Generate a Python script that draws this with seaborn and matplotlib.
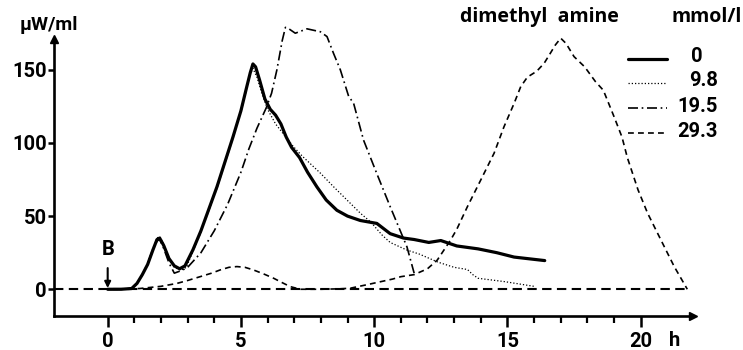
import matplotlib
matplotlib.use("Agg")
import matplotlib.pyplot as plt
import seaborn as sns
import pandas as pd
from matplotlib.lines import Line2D

# ---------------- data ----------------
concentrations = ["0", "9.8", "19.5", "29.3"]

t_0 = [0, 0.5, 0.9, 1.1, 1.3, 1.5, 1.7, 1.85, 1.95, 2.1, 2.3, 2.5, 2.7, 2.9, 3.2, 3.5,
       3.8, 4.1, 4.4, 4.7, 5.0, 5.2, 5.35, 5.45, 5.55, 5.7, 5.9, 6.1, 6.3, 6.5, 6.7, 6.9,
       7.2, 7.5, 7.85, 8.2, 8.6, 9.0, 9.48, 10.1, 10.6, 11.1, 11.5, 12.05, 12.5, 13.1,
       13.9, 14.6, 15.25, 16.4]
v_0 = [0, 0, 0.5, 4, 10, 17, 27, 34, 35, 30, 21, 16, 14, 16, 27, 40,
       55, 70, 87, 104, 122, 137, 148, 154, 152, 143, 130, 123, 119, 113, 104, 97,
       90, 80, 70, 61, 54, 50, 47, 45, 38, 35, 34, 32, 33.3, 29.6,
       27.6, 25, 22, 19.6]

t_98 = [0, 0.5, 0.9, 1.1, 1.3, 1.5, 1.7, 1.85, 1.95, 2.1, 2.3, 2.5, 2.75, 2.95, 3.2, 3.5,
        3.8, 4.1, 4.4, 4.7, 5.0, 5.2, 5.35, 5.45, 5.6, 5.8, 6.0, 6.3, 6.6, 6.97, 7.3,
        7.98, 8.48, 8.98, 9.48, 9.87, 10.3, 10.6, 11.2, 11.7, 12.4, 13.0, 13.5, 13.7,
        13.9, 14.9, 16.0]
v_98 = [0, 0, 0.5, 4, 10, 18, 28, 35, 36, 31, 21, 15, 13, 15, 26, 39,
        54, 69, 86, 103, 121, 136, 147, 151, 145, 133, 123, 113, 106, 97.5, 91,
        79.4, 70, 61, 52, 46, 37, 32, 27, 24, 18.5, 15, 13.5, 10,
        7.5, 5.2, 2]

t_195 = [0, 0.5, 0.9, 1.1, 1.3, 1.5, 1.7, 1.85, 1.95, 2.1, 2.3, 2.5, 2.8, 3.0, 3.5, 4.0,
         4.5, 5.0, 5.3, 5.6, 5.95, 6.15, 6.35, 6.55, 6.67, 6.8, 7.04, 7.48, 7.98, 8.23,
         8.48, 8.73, 9.04, 9.23, 9.6, 10.1, 10.6, 11.23, 11.5]
v_195 = [0, 0, 0.5, 4, 10, 17, 27, 33, 34, 28, 18, 11, 13, 15, 25, 40,
         58, 80, 96, 110, 124, 134, 150, 170, 179, 178, 175, 178, 176, 172.7,
         161, 150, 132, 127, 102, 79, 56.5, 29, 11]

t_293 = [0, 1.2, 2.0, 2.6, 3.0, 3.47, 3.9, 4.22, 4.55, 4.85, 5.15, 5.47, 5.85, 6.23, 6.55,
         6.85, 7.23, 8.0, 8.7, 9.1, 9.7, 10.2, 10.7, 11.0, 11.5, 12.0, 12.37, 12.87, 13.1,
         13.5, 14.0, 14.5, 14.87, 15.25, 15.5, 15.75, 16.1, 16.38, 16.6, 16.8, 17.0, 17.2,
         17.5, 17.9, 18.3, 18.6, 19.0, 19.3, 19.5, 19.9, 20.26, 20.76, 21.26, 21.75]
v_293 = [0, 0.5, 2, 4, 6, 8.6, 11, 13.2, 15, 15.5, 15, 13.2, 10.5, 7.5, 4.5,
         1.8, 0, 0, 0.3, 0.7, 3, 5, 7, 8.6, 10, 14, 20, 33.7, 41,
         56.5, 74.7, 93, 111, 127, 138.5, 145, 149, 154.5, 161, 167, 171.6, 168,
         159, 152, 142, 136, 118, 104, 90, 68, 52, 33.7, 15.5, 0]

x_major_ticks = [0, 5, 10, 15, 20]
x_minor_ticks = [1, 2, 3, 4, 6, 7, 8, 9, 11, 12, 13, 14, 16, 17, 18, 19]
y_ticks = [0, 50, 100, 150]

# ---------------- styling ----------------
sns.set_theme(style="ticks")
plt.rcParams["font.family"] = ["Roboto", "DejaVu Sans"]
plt.rcParams.update({
    "text.color": "black", "axes.labelcolor": "black",
    "xtick.color": "black", "ytick.color": "black", "axes.edgecolor": "black",
    "font.weight": "bold",
})
WIDE = ["Open Sans", "DejaVu Sans"]

frames = []
for lab, t, v in zip(concentrations, [t_0, t_98, t_195, t_293], [v_0, v_98, v_195, v_293]):
    frames.append(pd.DataFrame({"t": t, "v": v, "c": lab}))
df = pd.concat(frames, ignore_index=True)

line_styles = {
    "0": dict(lw=2.3, ls="-"),
    "9.8": dict(lw=0.9, ls=(0, (1, 1.6))),
    "19.5": dict(lw=1.2, ls=(0, (6, 2.2, 1, 2.2))),
    "29.3": dict(lw=1.2, ls=(0, (3.5, 2.5))),
}

fig = plt.figure(figsize=(7.43, 3.5), dpi=100)
ax = fig.add_axes([0.0732, 0.0983, 0.859, 0.8486])

for lab in concentrations:
    sub = df[df["c"] == lab]
    st = line_styles[lab]
    n_before = len(ax.lines)
    sns.lineplot(data=sub, x="t", y="v", ax=ax, color="black", sort=False,
                 estimator=None, linewidth=st["lw"], legend=False)
    for ln in ax.lines[n_before:]:
        ln.set_linestyle(st["ls"])
        ln.set_solid_capstyle("round")

xmin, xmax = -2.0, 21.95
ymin, ymax = -18, 185
ax.set_xlim(xmin, xmax)
ax.set_ylim(ymin, ymax)

# zero baseline (long dashes)
ax.axhline(0, xmin=0, xmax=(21.8 - xmin) / (xmax - xmin), color="black",
           lw=1.5, ls=(0, (4.5, 2.6)))

# spines and arrows
ax.spines[["top", "right"]].set_visible(False)
for s in ["left", "bottom"]:
    ax.spines[s].set_linewidth(1.9)
ax.spines["left"].set_bounds(ymin, 171)
ax.plot(1, 0, marker=">", ms=6, color="black", transform=ax.transAxes, clip_on=False)
ax.plot(0, 171, marker="^", ms=6, color="black", transform=ax.get_yaxis_transform(),
        clip_on=False)

ax.set_xticks(x_major_ticks)
ax.set_xticks(x_minor_ticks, minor=True)
ax.set_yticks(y_ticks)
ax.set_xticklabels([str(v) for v in x_major_ticks], fontsize=14.5, fontweight="bold")
ax.set_yticklabels([str(v) for v in y_ticks], fontsize=14.5, fontweight="bold")
ax.tick_params(axis="x", which="major", length=8, width=1.8, direction="out", pad=4)
ax.tick_params(axis="x", which="minor", length=5, width=1.6, direction="out")
ax.tick_params(axis="y", which="major", length=4.5, width=1.8, direction="out", pad=1)
ax.set_xlabel("")
ax.set_ylabel("")

# "B" marker with arrow
ax.annotate("B", xy=(0, 0.8), xytext=(0, 27), ha="center", va="center",
            fontsize=14.5, fontweight="bold",
            arrowprops=dict(arrowstyle="-|>", color="black", lw=1.5,
                            mutation_scale=9, shrinkA=4, shrinkB=0))

# texts
W, H = 743, 350
fig.text(49 / W, 1 - 25 / H, "μW/ml", ha="center", va="center", fontsize=14,
         fontweight="bold")
fig.text(675 / W, 1 - 340 / H, "h", ha="center", va="center", fontsize=14.5,
         fontweight="bold")
fig.text(539 / W, 1 - 17 / H, "dimethyl  amine", ha="center", va="center",
         fontsize=14, fontweight="bold", family=WIDE)
fig.text(707 / W, 1 - 17 / H, "mmol/l", ha="center", va="center", fontsize=14,
         fontweight="bold", family=WIDE)

# legend (manual, decimal-style alignment as in the reference)
legend_rows_y = [57, 81, 106, 131]
label_right_x = [703, 718, 718, 718]
for lab, yy, xr in zip(concentrations, legend_rows_y, label_right_x):
    st = line_styles[lab]
    fig.add_artist(Line2D([628 / W, 667 / W], [1 - (yy + 2) / H, 1 - (yy + 2) / H],
                          color="black", lw=st["lw"], ls=st["ls"]))
    fig.text(xr / W, 1 - yy / H, lab, ha="right", va="center", fontsize=14.5,
             fontweight="bold")

fig.savefig("out.png", dpi=100)
